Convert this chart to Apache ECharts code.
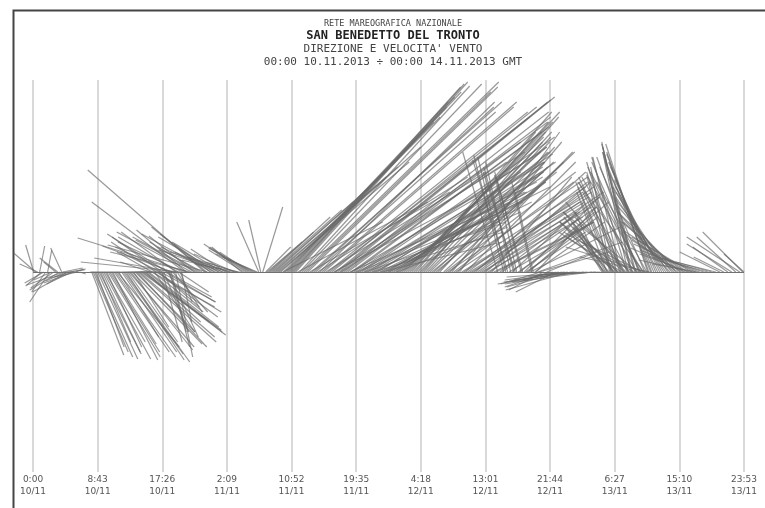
<!DOCTYPE html>
<html>
<head>
<meta charset="utf-8">
<script src="https://cdn.jsdelivr.net/npm/echarts@6/dist/echarts.min.js"></script>
<style>
html,body{margin:0;padding:0;background:#fff;}
#chart{width:765px;height:508px;}
</style>
</head>
<body>
<div id="chart"></div>
<script>
// Tick labels (every 8h43m from 00:00 10/11)
const tickLabels = ['0:00\n10/11','8:43\n10/11','17:26\n10/11','2:09\n11/11','10:52\n11/11','19:35\n11/11',
  '4:18\n12/11','13:01\n12/11','21:44\n12/11','6:27\n13/11','15:10\n13/11','23:53\n13/11'];

// Wind sticks, one row per reading: [hours since 00:00 10/11, east component, north component]
const sticksA = [[0.09,-0.8,2.7],[0.36,-2.2,1.9],[0.63,-1.8,0.8],[0.90,0.5,2.6],[1.17,-1.6,-1.4],[1.44,-1.9,-1.1],[1.71,-1.4,-2.0],
  [1.98,0.4,2.2],[2.25,-2.0,-3.0],[2.52,-1.8,-0.8],[2.79,-2.3,-1.6],[3.06,-1.2,1.0],[3.33,-1.8,1.4],[3.60,-3.0,-1.8],[3.87,-1.1,2.4],
  [4.01,2.0,0.4],[4.14,-3.7,-1.3],[4.41,-2.0,-0.9],[4.55,1.8,0.2],[4.68,-3.5,-2.0],[4.95,-1.5,-0.5],[5.09,1.5,0.3],[5.22,-2.5,-1.2],
  [5.49,-3.0,-1.1],[5.76,0.8,0.3],[6.03,-2.8,-0.6],[6.30,0.6,-0.2]];

const sticksB = [[7.92,3.2,-8.3],[8.12,3.5,-8.0],[8.32,3.8,-8.5],[8.52,2.8,-7.5],[8.73,4.0,-8.7],[8.93,4.2,-8.2],[9.13,3.0,-7.0],
  [9.33,3.8,-8.0],[9.53,4.7,-8.7],[9.74,4.0,-7.0],[9.94,3.5,-7.5],[10.14,5.2,-8.5],[10.34,5.0,-8.0],[10.55,4.5,-7.2],[10.75,4.5,-8.8],
  [10.95,5.5,-8.0],[11.15,6.0,-8.5],[11.36,6.2,-7.5],[11.56,4.0,-6.5],[11.96,5.5,-8.0],[12.16,6.0,-8.2],[12.37,6.5,-9.0],[12.57,5.8,-8.8],
  [12.77,5.0,-7.0],[12.97,6.5,-7.5],[13.18,6.2,-7.8],[13.38,7.0,-7.2],[13.58,3.5,-5.5],[13.79,6.0,-6.0],[13.99,7.0,-7.5],[14.19,7.8,-7.0],
  [14.39,7.5,-6.5],[14.59,8.0,-5.8],[14.79,8.3,-6.3],[15.00,6.5,-5.0],[15.20,5.5,-5.0],[15.40,7.5,-6.0],[15.60,7.0,-5.5],[16.01,6.3,-3.5],
  [16.21,5.0,-4.0],[16.41,4.0,-6.0],[16.62,6.5,-4.0],[16.82,6.0,-4.5],[17.02,4.0,-3.5],[17.22,5.5,-3.0],[17.42,2.0,-7.0],[17.63,2.5,-6.0],
  [17.83,5.0,-3.0],[18.03,4.5,-2.5],[18.24,3.0,-6.5],[18.44,2.0,-7.5],[18.64,1.5,-6.0],[18.84,3.5,-4.0],[19.24,1.7,-8.5],[19.44,2.5,-4.0],
  [19.65,3.0,-2.0],[19.85,1.2,-3.0],[20.05,1.0,-5.0]];

const sticksC = [[7.71,3.0,0.0],[11.76,4.0,0.1],[14.46,3.5,0.0],[15.81,-3.0,1.0],[16.05,-3.5,2.0],[16.60,-4.5,3.0],[17.15,-4.0,2.0],
  [17.40,-5.0,3.5],[18.10,-6.0,3.8],[18.50,-5.5,2.5],[18.80,-7.0,2.6],[19.04,-8.0,1.4],[19.30,-5.5,4.0],[19.58,-6.0,3.5],[19.92,-10.0,1.0],
  [20.20,-6.5,3.0],[20.46,-9.3,7.0],[20.70,-5.0,4.2],[20.86,-11.0,3.4],[21.20,-8.0,2.0],[21.40,-7.5,4.0],[21.70,-4.5,3.6],[21.94,-6.0,3.2],
  [22.20,-6.5,3.5],[22.48,-5.0,3.0],[22.80,-4.5,2.5],[23.16,-11.7,10.2],[23.40,-5.5,4.5],[23.56,-10.0,2.7],[23.90,-5.0,3.8],[24.10,-7.0,3.8],
  [24.40,-4.0,2.8],[24.64,-5.5,2.5],[24.98,-6.0,3.5],[25.18,-4.5,2.0],[25.50,-5.0,3.0],[25.72,-6.5,2.2],[26.00,-3.5,2.3],[26.26,-4.0,1.5],
  [26.55,-6.0,2.0],[26.80,-5.0,1.2],[27.10,-4.0,1.8],[27.34,-3.0,1.0],[27.60,-5.0,1.5],[27.88,-4.5,0.8],[28.15,-3.0,2.5],[28.41,-3.5,2.2],
  [28.70,-4.2,2.8],[28.95,-3.8,2.5],[29.20,-3.0,2.0],[29.49,-2.5,1.4],[29.75,-4.5,2.4],[30.03,-4.0,1.8],[30.25,-3.5,1.5],[30.44,-2.2,5.0],
  [30.71,-1.2,5.2],[30.98,2.0,6.5]];

const sticksD = [[31.38,2.5,2.5],[31.58,3.5,3.0],[31.79,4.5,4.0],[31.99,6.0,5.5],[32.19,7.0,6.2],[32.40,8.0,7.0],[32.60,9.5,8.5],
  [32.80,11.0,9.5],[33.00,12.0,10.5],[33.20,13.0,11.0],[33.40,14.0,12.5],[33.67,10.0,5.0],[33.81,15.0,15.0],[34.01,15.5,15.5],
  [34.21,16.0,16.5],[34.42,16.0,17.0],[34.62,16.5,17.5],[34.82,17.0,18.0],[35.02,16.8,18.5],[35.22,17.0,18.8],[35.43,17.2,19.0],
  [35.70,13.0,7.0],[35.97,17.0,18.6],[36.24,18.0,18.8],[36.51,19.5,19.0],[36.78,18.5,18.0],[37.05,19.0,18.5],[37.32,14.0,8.0],
  [37.59,19.0,17.0],[37.86,18.0,16.5],[38.12,18.0,16.0],[38.39,15.0,9.5],[38.66,17.5,17.0],[38.93,19.5,17.0],[39.20,19.0,16.5],
  [39.47,16.0,10.0],[39.74,20.0,16.0],[39.99,20.0,15.5],[40.28,20.5,16.5],[40.55,15.0,8.0],[40.68,19.0,12.0],[40.82,21.5,17.2],
  [41.09,21.0,17.0],[41.36,21.5,17.5],[41.50,18.0,13.0],[41.63,16.5,11.0],[41.90,20.5,16.0],[42.17,20.5,15.5],[42.44,20.0,15.0],
  [42.71,16.0,7.0],[42.85,17.0,10.0],[42.98,19.0,14.0],[43.25,19.5,14.5],[43.52,18.5,12.0],[43.66,18.0,9.0],[43.79,15.0,6.0],
  [44.06,19.5,13.5],[44.33,18.5,12.5],[44.60,18.0,11.0],[44.74,16.0,8.0],[44.87,14.0,5.0],[45.14,18.5,11.8],[45.41,17.5,11.0],
  [45.68,17.0,10.0],[45.82,15.0,7.0],[45.95,13.0,4.0],[46.22,16.0,9.5],[46.49,16.5,10.5],[46.76,17.0,8.5],[46.90,14.0,6.0],
  [47.03,12.0,3.0],[47.30,15.0,8.0],[47.57,16.0,9.0],[47.83,15.5,9.5],[47.97,13.0,7.0],[48.10,10.0,5.5],[48.37,14.0,7.0],
  [48.64,15.0,10.0],[48.91,16.0,11.0],[49.05,13.0,8.0],[49.18,11.0,4.5],[49.45,15.0,12.0],[49.72,14.5,12.5],[49.99,14.0,13.5],
  [50.26,14.0,14.0],[50.53,14.5,15.0],[50.80,15.0,16.0],[51.07,14.0,16.0],[51.34,13.5,15.0],[51.61,12.0,14.0],[51.88,12.5,13.0],
  [52.15,13.0,13.0],[52.42,13.0,14.0],[52.69,13.5,15.5],[52.96,12.5,13.5],[53.23,12.0,12.0],[53.50,11.5,11.0],[53.77,12.5,10.0],
  [54.04,12.0,11.0],[54.31,11.0,9.0],[54.58,11.0,10.5],[54.85,11.5,12.5]];

const sticksE = [[55.39,12.0,11.0],[55.66,13.0,10.0],[55.93,14.0,9.5],[56.20,12.5,12.0],[56.47,11.0,13.0],[56.74,12.0,9.0],
  [57.01,13.0,8.5],[57.27,11.5,12.0],[57.54,10.0,14.0],[57.81,13.0,8.0],[58.08,12.5,7.5],[58.35,11.0,11.0],[58.62,12.0,9.0],
  [58.89,11.5,7.0],[59.16,10.5,6.0],[59.43,12.0,8.5],[59.70,11.0,10.0],[59.97,10.5,8.0],[60.24,10.0,7.0],[60.51,11.0,6.5],
  [60.78,12.0,8.0],[61.05,10.5,9.0],[61.32,9.5,5.5],[61.59,9.0,6.0],[61.86,8.0,9.5],[62.13,10.0,5.0],[62.40,9.0,4.5],
  [62.67,-3.5,12.0],[62.94,10.0,7.5],[63.21,9.5,6.5],[63.48,-3.0,11.7],[63.75,-2.8,11.5],[64.02,-3.5,11.2],[64.22,8.5,5.0],
  [64.42,-2.5,11.0],[64.63,7.0,6.5],[64.83,-3.0,10.5],[65.03,-3.2,10.0],[65.23,-2.2,9.7],[65.44,8.0,5.5],[65.64,7.5,6.0],
  [65.84,-2.5,9.5],[66.04,-2.8,10.0],[66.25,7.5,7.5],[66.45,6.0,4.0],[66.65,6.5,5.0],[66.85,8.0,7.0],[67.06,9.0,4.5],
  [67.26,-2.0,9.0],[67.46,-1.8,8.0],[67.66,7.0,5.0],[67.86,6.0,6.5],[68.06,8.5,3.0],[68.27,7.0,2.0],[68.47,-4.0,-1.2],
  [68.87,-3.5,-1.8],[69.28,5.0,2.0],[69.68,-4.5,-1.5],[70.09,-3.0,-0.8],[70.49,-4.0,-2.0],[70.90,-5.0,-1.0],[71.30,-5.5,-1.5],
  [71.71,-6.0,-0.8],[72.11,-7.0,-1.2],[72.51,-6.5,-1.8],[72.92,-7.0,-1.0],[73.32,-7.0,-0.5],[73.73,-7.5,-1.2],[74.27,-7.0,-0.8],
  [74.81,-6.0,-0.4],[75.35,-8.0,-1.0],[75.89,-5.0,-0.3],[76.43,-4.0,-0.2]];

const sticksF = [[76.70,-3.0,5.0],[76.84,-2.8,6.0],[76.97,-2.0,3.0],[77.11,-4.0,4.5],[77.24,-2.5,4.0],[77.38,-3.0,8.0],
  [77.51,-3.5,5.0],[77.65,-4.5,5.5],[77.78,-2.3,9.7],[77.91,-2.0,10.5],[78.04,-3.0,7.0],[78.18,-3.5,8.5],[78.31,-5.0,6.0],
  [78.45,-5.5,5.0],[78.58,-4.0,9.0],[78.72,-3.0,10.0],[78.85,-4.5,4.5],[78.99,-6.0,4.0],[79.12,-3.3,11.0],[79.26,-2.8,11.5],
  [79.39,-5.5,3.5],[79.53,-4.0,8.0],[79.66,-4.5,9.5],[79.80,-6.5,5.0],[79.93,-6.0,7.0],[80.07,-3.5,11.5],[80.20,-2.5,12.0],
  [80.34,-5.0,9.0],[80.47,-5.5,5.5],[80.61,-2.8,12.5],[80.74,-3.0,13.0],[80.88,-4.5,10.5],[81.01,-7.0,4.0],[81.15,-3.2,12.0],
  [81.28,-3.4,12.8],[81.42,-5.5,9.5],[81.55,-7.5,6.0],[81.69,-4.2,11.5],[81.82,-4.8,11.0],[81.96,-5.0,10.0],[82.09,-6.0,3.0],
  [82.23,-5.5,9.5],[82.36,-6.6,9.0],[82.50,-4.5,10.5],[82.63,-8.0,2.5],[82.77,-5.0,9.0],[82.90,-4.2,12.8],[83.04,-4.2,12.0],
  [83.17,-7.0,1.5],[83.31,-4.5,11.0],[83.44,-4.5,11.8],[83.71,-4.5,11.0],[83.98,-4.5,10.5],[84.25,-4.8,9.8],[84.52,-4.5,9.2],
  [84.79,-4.6,8.5],[85.06,-4.8,8.0],[85.33,-5.0,7.5],[85.59,-5.5,8.5],[85.86,-5.2,6.0],[86.13,-5.8,7.5],[86.40,-5.0,5.0],
  [86.67,-6.0,6.8],[86.94,-5.5,4.0],[87.21,-6.2,6.0],[87.48,-5.0,3.2],[87.75,-6.2,5.0],[88.02,-5.5,2.4],[88.29,-6.5,4.2],
  [88.56,-5.0,1.8],[88.83,-6.0,3.5],[89.10,-5.5,1.2],[89.37,-6.2,2.8],[89.64,-4.5,0.8]];

const sticksG = [[89.91,-6.0,2.2],[90.45,-5.5,1.8],[90.99,-5.5,1.5],[91.53,-5.0,1.4],[92.07,-4.0,1.0],[92.61,-4.0,2.0],
  [93.15,-3.0,1.5],[93.69,-3.5,2.5],[94.23,-4.5,2.8],[94.77,-3.9,3.5],[95.31,-5.3,3.5],[95.71,-4.0,4.0],[95.88,-2.0,1.8]];

const stepMin = 523;           // 8h43m between ticks
const maxMin = 5753;           // 95h53m
const allSticks = [].concat(sticksA, sticksB, sticksC, sticksD, sticksE, sticksF, sticksG);
const data = allSticks.map(r => [r[0]*60, r[1], r[2]]);

const chart = echarts.init(document.getElementById('chart'), null, {renderer:'canvas'});
const mono = "'DejaVu Sans Mono', 'Liberation Mono', monospace";
chart.setOption({
  animation:false,
  backgroundColor:'#ffffff',
  title:[
    {text:'RETE MAREOGRAFICA NAZIONALE', left:388, top:14, textAlign:'center',
     textStyle:{fontFamily:mono, fontSize:8.5, fontWeight:'normal', color:'#444'}},
    {text:'SAN BENEDETTO DEL TRONTO', left:388, top:25, textAlign:'center',
     textStyle:{fontFamily:mono, fontSize:12, fontWeight:'bold', color:'#222'}},
    {text:"DIREZIONE E VELOCITA' VENTO", left:388, top:39, textAlign:'center',
     textStyle:{fontFamily:mono, fontSize:11, fontWeight:'normal', color:'#444'}},
    {text:'00:00 10.11.2013 \u00f7 00:00 14.11.2013 GMT', left:388, top:52, textAlign:'center',
     textStyle:{fontFamily:mono, fontSize:11, fontWeight:'normal', color:'#444'}}
  ],
  graphic:[
    {type:'rect', left:11, top:8, shape:{width:800, height:600}, style:{fill:'none', stroke:'#444', lineWidth:2}, silent:true}
  ],
  grid:{left:33, right:21, top:80, bottom:36},
  xAxis:{
    type:'value', min:0, max:maxMin, interval:stepMin,
    axisLine:{show:false}, axisTick:{show:false},
    splitLine:{show:true, lineStyle:{color:'#cccccc', width:1.5}},
    axisLabel:{show:true, margin:2, showMinLabel:true, showMaxLabel:true,
      fontFamily:"'DejaVu Sans', sans-serif", fontSize:9, lineHeight:12, color:'#555',
      formatter:function(v){ const i=Math.round(v/stepMin); return tickLabels[i]||''; }}
  },
  yAxis:{type:'value', min:-20, max:19.2, show:false, splitLine:{show:false}},
  series:[{
    type:'custom',
    clip:false,
    data:data,
    encode:{x:0, y:2},
    renderItem:function(params, api){
      const t = api.value(0), u = api.value(1), v = api.value(2);
      const p0 = api.coord([t, 0]);
      const p1 = api.coord([t, v]);
      const k = api.size([0, 1])[1];
      return {type:'line', shape:{x1:p0[0], y1:p0[1], x2:p0[0]+u*k, y2:p1[1]},
        style:{stroke:'rgba(105,105,105,0.68)', lineWidth:1.2}};
    },
    markLine:{silent:true, symbol:'none', label:{show:false},
      lineStyle:{color:'#707070', width:1.2, type:'solid'},
      data:[{yAxis:0}]}
  }]
});
</script>
</body>
</html>
